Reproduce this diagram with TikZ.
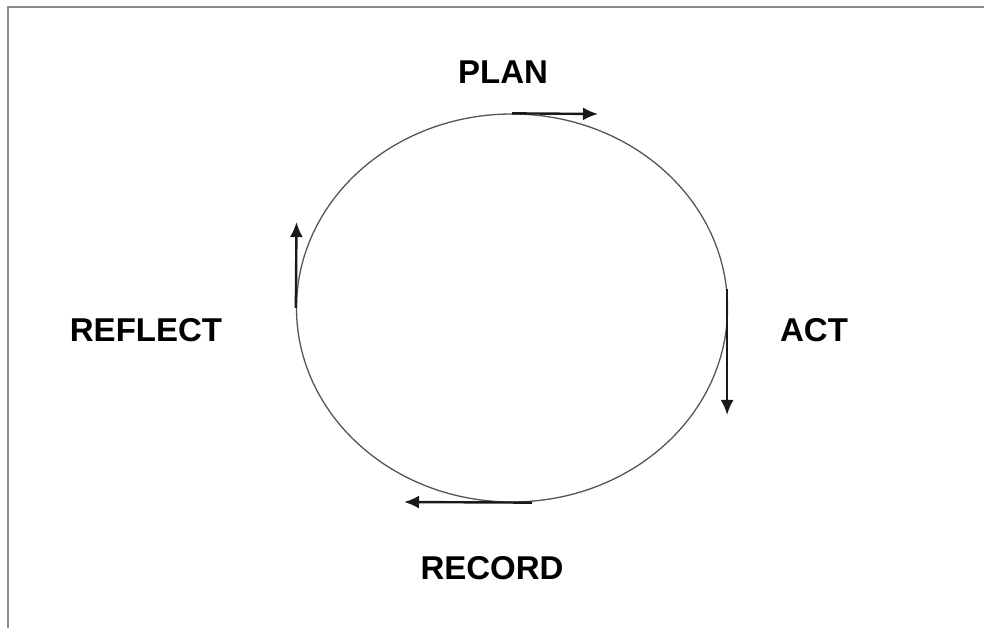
\documentclass[tikz,border=0pt]{standalone}
\usepackage{fontspec}
\setmainfont{Liberation Sans}
\usepackage{tikz}
\usetikzlibrary{arrows.meta,positioning,shapes.geometric}
\definecolor{rim}{HTML}{555555}
\definecolor{frameg}{HTML}{8C8C8C}

\begin{document}
\begin{tikzpicture}[x=1pt,y=1pt,
          every node/.style={font=\fontsize{33}{40}\selectfont\bfseries},
          cyc/.style={draw=rim,ellipse,line width=1.3pt,
                      minimum width=431pt,minimum height=388pt,inner sep=0pt},
          stage/.style={inner sep=0pt},
          arr/.style={-{Latex[length=15pt,width=13pt]},line width=2.4pt,draw=black!90},
      ]
        \useasboundingbox (0,0) rectangle (984,628);
        \draw[frameg,line width=2.6pt] (8,-2) -- (8,621) -- (986,621);
        \node[cyc] (cycle) at (512,320) {};
        \node[stage] (plan) at (503,556) {PLAN};
        \node[stage] (act) at (814,298) {ACT};
        \node[stage] (record) at (492,60) {RECORD};
        \node[stage] (reflect) at (146,298) {REFLECT};
        \coordinate (planend) at (598,514);
        \coordinate (actend) at (728,213);
        \coordinate (recordend) at (404,126);
        \coordinate (reflectend) at (296.5,406);
        \draw[arr] (cycle.north) -- (planend);
        \draw[arr] (cycle.5) -- (cycle.5 |- actend);
        \draw[arr] ([xshift=20pt]cycle.south) -- (recordend);
        \draw[arr] (cycle.west) -- (reflectend);
      \end{tikzpicture}
\end{document}
